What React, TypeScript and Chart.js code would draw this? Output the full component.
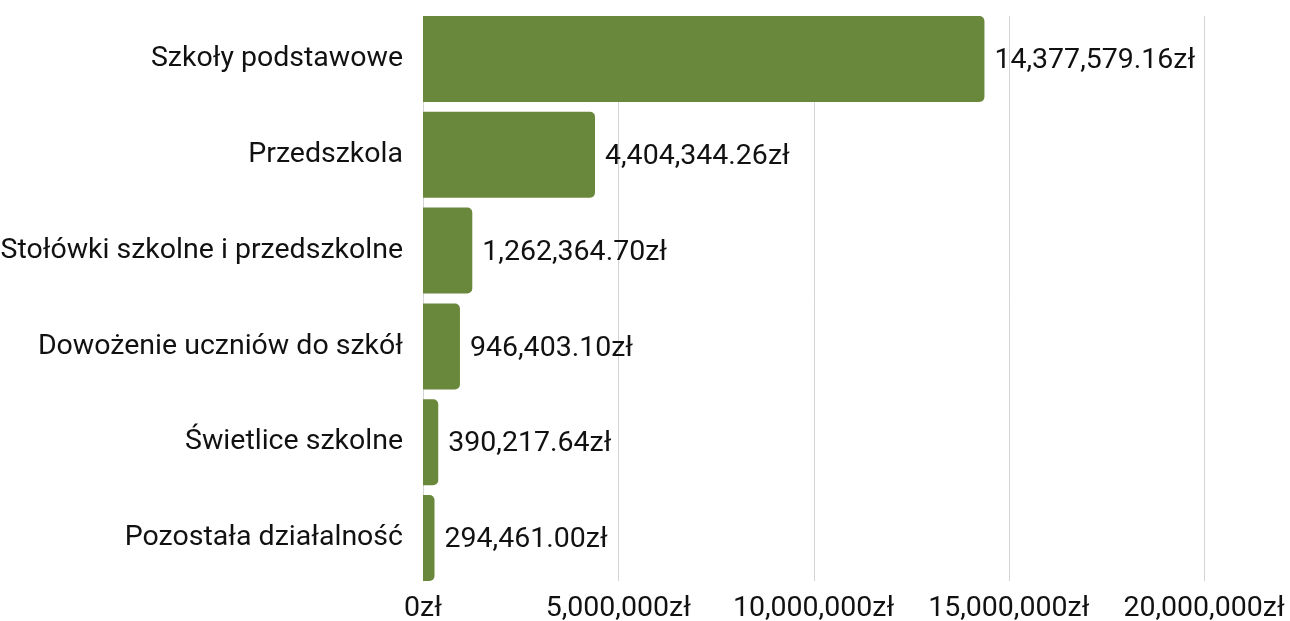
import React, { useEffect, useRef } from "react";
import { Chart, registerables } from "chart.js";

Chart.register(...registerables);

const categories = [
  "Szkoły podstawowe",
  "Przedszkola",
  "Stołówki szkolne i przedszkolne",
  "Dowożenie uczniów do szkół",
  "Świetlice szkolne",
  "Pozostała działalność",
];
const values = [14377579.16, 4404344.26, 1262364.7, 946403.1, 390217.64, 294461.0];
const xMax = 20000000;
const xStep = 5000000;

const FONT = "Roboto";
const FS = 28.5;
const GRID_INSET = 5;
const fmtVal = (v: number) =>
  v.toLocaleString("en-US", { minimumFractionDigits: 2, maximumFractionDigits: 2 }) + "zł";
const fmtTick = (v: number) => v.toLocaleString("en-US", { maximumFractionDigits: 0 }) + "zł";

const gridLines = {
  id: "gridLines",
  beforeDatasetsDraw(chart: any) {
    const ctx = chart.ctx;
    const a = chart.chartArea;
    const xs = chart.scales.x;
    ctx.save();
    ctx.strokeStyle = "#d4d4d4";
    ctx.lineWidth = 1;
    xs.ticks.forEach((t: any) => {
      const x = Math.round(xs.getPixelForValue(t.value)) + 0.5;
      ctx.beginPath();
      ctx.moveTo(x, a.top + GRID_INSET);
      ctx.lineTo(x, a.bottom - GRID_INSET);
      ctx.stroke();
    });
    ctx.restore();
  },
};

const valueLabels = {
  id: "valueLabels",
  afterDatasetsDraw(chart: any) {
    const ctx = chart.ctx;
    const meta = chart.getDatasetMeta(0);
    ctx.save();
    ctx.font = `${FS}px ${FONT}`;
    ctx.fillStyle = "#111111";
    ctx.textAlign = "left";
    ctx.textBaseline = "middle";
    meta.data.forEach((bar: any, i: number) => {
      ctx.fillText(fmtVal(values[i]), bar.x + 10, bar.y + 2);
    });
    ctx.restore();
  },
};

export default function App() {
  const ref = useRef<HTMLCanvasElement>(null);
  useEffect(() => {
    if (!ref.current) return;
    const chart = new Chart(ref.current, {
      type: "bar",
      data: {
        labels: categories,
        datasets: [
          {
            data: values,
            backgroundColor: "#6a883b",
            borderRadius: 5,
            borderSkipped: "start",
            barPercentage: 0.8974,
            categoryPercentage: 1,
          },
        ],
      },
      options: {
        indexAxis: "y",
        animation: false,
        responsive: false,
        layout: { padding: { top: 11, right: 86, left: 0, bottom: 0 } },
        plugins: { legend: { display: false }, tooltip: { enabled: false } },
        scales: {
          x: {
            min: 0,
            max: xMax,
            ticks: {
              stepSize: xStep,
              color: "#111111",
              font: { family: FONT, size: FS },
              padding: 6,
              callback: (v: any) => fmtTick(Number(v)),
            },
            grid: { display: false, drawTicks: false },
            border: { display: false },
            afterFit: (s: any) => {
              s.height = 35;
              s.paddingLeft = 0;
              s.paddingRight = 0;
            },
          },
          y: {
            ticks: {
              color: "#111111",
              font: { family: FONT, size: FS },
              padding: 20,
            },
            grid: { display: false, drawTicks: false },
            border: { display: false },
            afterFit: (s: any) => {
              s.width = 423;
              s.paddingTop = 0;
              s.paddingBottom = 0;
            },
          },
        },
      },
      plugins: [gridLines, valueLabels],
    });
    return () => chart.destroy();
  }, []);
  return (
    <div style={{ position: "absolute", left: 0, top: 0, width: 1290, height: 621, background: "#fff" }}>
      <canvas ref={ref} width={1290} height={621} />
    </div>
  );
}
